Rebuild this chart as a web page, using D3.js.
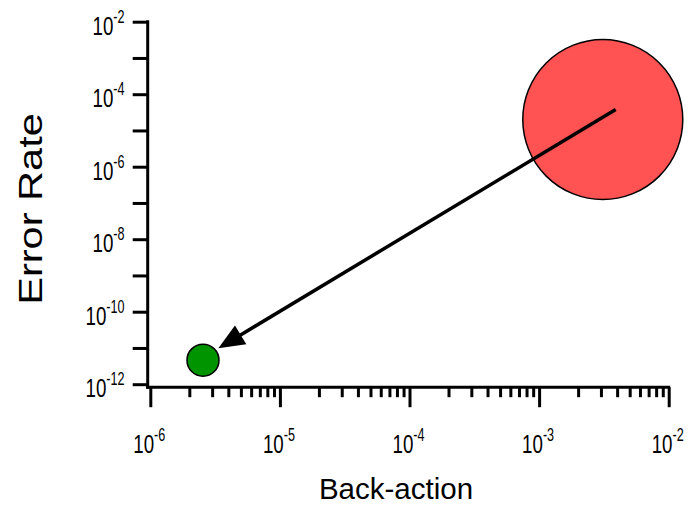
<!DOCTYPE html>
<html>
<head>
<meta charset="utf-8">
<script src="https://cdn.jsdelivr.net/npm/d3@7"></script>
<style>
  html, body { margin: 0; padding: 0; background: #fff; }
  svg { display: block; font-family: "Liberation Sans", Arial, sans-serif; }
</style>
</head>
<body>
<svg id="chart" width="694" height="511"></svg>
<script>
// Axis domains and tick exponents
const xDomain = [1e-6, 1e-2];
const yDomain = [1e-12, 1e-2];
const xLabelExps = [-6, -5, -4, -3, -2];
const yTickExps = [-12, -11, -10, -9, -8, -7, -6, -5, -4, -3, -2];
const yLabelExps = [-12, -10, -8, -6, -4, -2];

// Markers: back-action, error rate, radius in px
const markerNames = ["before", "after"];
const markerX = [3.1e-3, 2.55e-6];
const markerY = [2.0e-5, 4.6e-12];
const markerR = [80, 16];
const markerFill = ["#ff5252", "#009400"];

// Arrow from the large marker toward the small one
const arrowFrom = [3.9e-3, 3.8e-5];
const arrowTo = [3.35e-6, 9.8e-12];

const svg = d3.select("#chart");

const x = d3.scaleLog().domain(xDomain).range([150.3, 668.7]);
const y = d3.scaleLog().domain(yDomain).range([384.2, 21.7]);

const axisY0 = y(1e-12) + 3;   // baseline of the x axis
const axisX0 = x(1e-6) - 2.6;  // position of the y axis

// Minor x ticks (2..9 in each decade)
const xMinor = [];
for (let e = -6; e < -2; e++) for (let m = 2; m <= 9; m++) xMinor.push(m * Math.pow(10, e));
const xMajor = xLabelExps.map(e => Math.pow(10, e));

const gxMinor = svg.append("g")
  .attr("transform", `translate(0,${axisY0})`)
  .call(d3.axisBottom(x).tickValues(xMinor).tickSize(10).tickSizeOuter(0).tickFormat(""));
const gxMajor = svg.append("g")
  .attr("transform", `translate(0,${axisY0})`)
  .call(d3.axisBottom(x).tickValues(xMajor).tickSize(20).tickSizeOuter(0).tickFormat(""));

const gy = svg.append("g")
  .attr("transform", `translate(${axisX0},0)`)
  .call(d3.axisLeft(y).tickValues(yTickExps.map(e => Math.pow(10, e))).tickSize(15).tickSizeOuter(0).tickFormat(""));

[gxMinor, gxMajor, gy].forEach(g => {
  g.select(".domain").remove();
  g.selectAll(".tick line").attr("stroke", "#000").attr("stroke-width", 3);
});

// Axis lines
svg.append("line")
  .attr("x1", axisX0 - 1.5).attr("x2", x(1e-2) + 1.5)
  .attr("y1", axisY0).attr("y2", axisY0)
  .attr("stroke", "#000").attr("stroke-width", 3);
svg.append("line")
  .attr("x1", axisX0).attr("x2", axisX0)
  .attr("y1", y(1e-2) - 1.5).attr("y2", axisY0 + 1.5)
  .attr("stroke", "#000").attr("stroke-width", 3);

// Power-of-ten label: "10" with a superscript exponent, narrow face
function powerLabel(g, exp, anchor) {
  const t = g.append("text")
    .attr("text-anchor", anchor)
    .attr("font-size", 26)
    .attr("fill", "#000");
  t.append("tspan").text("10");
  t.append("tspan").attr("font-size", 17.5).attr("dy", -12).text(String(exp));
}

xLabelExps.forEach(e => {
  const g = svg.append("g")
    .attr("transform", `translate(${x(Math.pow(10, e)) - 1},453) scale(0.72,1)`);
  powerLabel(g, e, "middle");
});

yLabelExps.forEach(e => {
  const g = svg.append("g")
    .attr("transform", `translate(124.5,${y(Math.pow(10, e)) + 12.8}) scale(0.72,1)`);
  powerLabel(g, e, "end");
});

// Axis titles
svg.append("text")
  .attr("x", 396).attr("y", 499)
  .attr("text-anchor", "middle")
  .attr("font-size", 29.5)
  .attr("fill", "#000")
  .text("Back-action");

svg.append("g")
  .attr("transform", "translate(42,209) rotate(-90) scale(1.26,1)")
  .append("text")
  .attr("text-anchor", "middle")
  .attr("font-size", 33)
  .attr("fill", "#000")
  .text("Error Rate");

// Markers
svg.selectAll("circle.marker")
  .data(markerNames.map((n, i) => ({ n, bx: markerX[i], er: markerY[i], r: markerR[i], fill: markerFill[i] })))
  .join("circle")
  .attr("class", "marker")
  .attr("cx", d => x(d.bx))
  .attr("cy", d => y(d.er))
  .attr("r", d => d.r)
  .attr("fill", d => d.fill)
  .attr("stroke", "#000")
  .attr("stroke-width", 1.5);

// Arrow
const x1 = x(arrowFrom[0]), y1 = y(arrowFrom[1]);
const x2 = x(arrowTo[0]), y2 = y(arrowTo[1]);
const ang = Math.atan2(y2 - y1, x2 - x1);
const headLen = 26, headHalf = 11;
const bx = x2 - headLen * Math.cos(ang), by = y2 - headLen * Math.sin(ang);
svg.append("line")
  .attr("x1", x1).attr("y1", y1)
  .attr("x2", bx + 2 * Math.cos(ang)).attr("y2", by + 2 * Math.sin(ang))
  .attr("stroke", "#000").attr("stroke-width", 3.5);
svg.append("path")
  .attr("d", d3.line()([
    [x2, y2],
    [bx + headHalf * Math.sin(ang), by - headHalf * Math.cos(ang)],
    [bx - headHalf * Math.sin(ang), by + headHalf * Math.cos(ang)]
  ]) + "Z")
  .attr("fill", "#000");
</script>
</body>
</html>
